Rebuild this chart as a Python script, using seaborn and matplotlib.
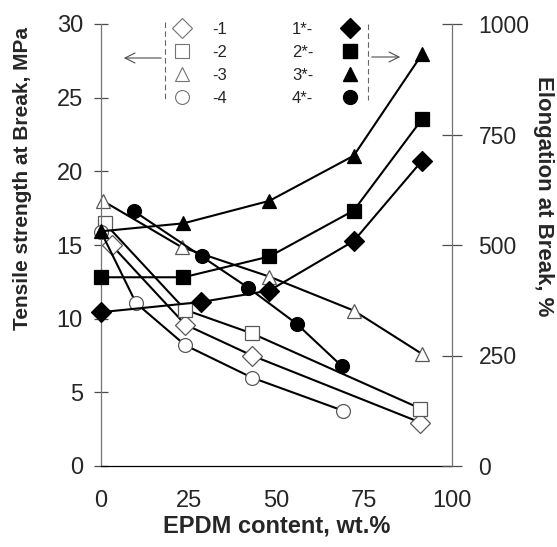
import pandas as pd
import seaborn as sns
import matplotlib
import matplotlib.pyplot as plt
from matplotlib.lines import Line2D
from matplotlib.patches import FancyArrowPatch

matplotlib.use('Agg')

# Tensile strength at break (MPa) - open symbols, left axis
ts_names = ["-1", "-2", "-3", "-4"]
ts_x1 = [3, 24, 43, 91]
ts_y1 = [15.0, 9.6, 7.5, 2.95]
ts_x2 = [1, 24, 43, 91]
ts_y2 = [16.5, 10.6, 9.0, 3.9]
ts_x3 = [0.5, 23, 48, 72, 91.5]
ts_y3 = [18.0, 14.85, 12.85, 10.55, 7.6]
ts_x4 = [0, 10, 24, 43, 69]
ts_y4 = [15.9, 11.05, 8.2, 6.0, 3.75]

# Elongation at break (%) - filled symbols, right axis
el_names = ["1*-", "2*-", "3*-", "4*-"]
el_x1 = [0, 28.5, 48, 72, 91.5]
el_y1 = [348, 371, 397, 509, 691]
el_x2 = [0, 23.5, 48, 72, 91.5]
el_y2 = [427, 427, 474, 578, 785]
el_x3 = [0, 23.5, 48, 72, 91.5]
el_y3 = [531, 549, 600, 702, 932]
el_x4 = [9.5, 28.7, 42, 55.7, 68.6]
el_y4 = [576, 474, 403, 322, 226]

x_ticks = [0, 25, 50, 75, 100]
ts_ticks = [0, 5, 10, 15, 20, 25, 30]
el_ticks = [0, 250, 500, 750, 1000]

marker_shapes = ["D", "s", "^", "o"]


def build_frame(xs, ys, names):
    # long format table for seaborn
    parts = [pd.DataFrame({"content": x, "value": y, "series": n}) for x, y, n in zip(xs, ys, names)]
    return pd.concat(parts, ignore_index=True)


ts_df = build_frame([ts_x1, ts_x2, ts_x3, ts_x4], [ts_y1, ts_y2, ts_y3, ts_y4], ts_names)
el_df = build_frame([el_x1, el_x2, el_x3, el_x4], [el_y1, el_y2, el_y3, el_y4], el_names)

sns.set_style("white")
plt.rcParams['font.family'] = ['Liberation Sans', 'DejaVu Sans']

W, H = 557, 547
fig = plt.figure(figsize=(W / 100, H / 100), dpi=100)
ax = fig.add_axes([101 / W, 1 - 466 / H, 351 / W, 442 / H])
ax2 = ax.twinx()

common = dict(x="content", y="value", hue="series", style="series", dashes=False,
              sort=False, estimator=None, legend=False, markersize=10, lw=1.5, clip_on=False)

sns.lineplot(data=ts_df, ax=ax, palette=["black"] * 4,
             markers=dict(zip(ts_names, marker_shapes)),
             mfc="white", mec="0.35", mew=0.9, **common)
sns.lineplot(data=el_df, ax=ax2, palette=["black"] * 4,
             markers=dict(zip(el_names, marker_shapes)),
             mfc="black", mec="black", mew=0.9, **common)

# axes cosmetics
ax.set_xlim(0, 100)
ax.set_ylim(0, 30)
ax2.set_ylim(0, 1000)
ax.set_xticks(x_ticks)
ax.set_yticks(ts_ticks)
ax2.set_yticks(el_ticks)

for a in (ax, ax2):
    a.spines["top"].set_visible(False)
    a.spines["left"].set_color("0.45")
    a.spines["right"].set_color("0.45")
    a.spines["bottom"].set_color("black")
    for s in a.spines.values():
        s.set_linewidth(0.9)
ax.spines["right"].set_visible(False)
ax2.spines["left"].set_visible(False)
ax2.spines["bottom"].set_visible(False)

ax.tick_params(axis="y", direction="inout", length=10, width=0.9, color="0.3", labelsize=17, pad=8)
ax.tick_params(axis="x", direction="inout", length=14, width=0.9, color="0.3", labelsize=17, pad=10)
ax2.tick_params(axis="y", direction="inout", length=14, width=0.9, color="0.3", labelsize=16.5, pad=12)

ax.set_xlabel("EPDM content, wt.%", fontsize=17, fontweight="bold", labelpad=2)
ax.set_ylabel("Tensile strength at Break, MPa", fontsize=15, fontweight="bold", va="center")
ax.yaxis.set_label_coords(-0.225, 0.65)
ax2.set_ylabel("Elongation at Break, %", fontsize=16, fontweight="bold", rotation=-90, va="center")
ax2.yaxis.set_label_coords(1.262, 0.61)

# legends: open symbols left, filled symbols right
open_handles = [Line2D([], [], ls="none", marker=m, ms=10, mfc="white", mec="0.45", mew=0.8)
                for m in marker_shapes]
fill_handles = [Line2D([], [], ls="none", marker=m, ms=10, mfc="black", mec="black")
                for m in marker_shapes]
leg_kw = dict(frameon=False, fontsize=12, borderpad=0, borderaxespad=0, labelspacing=0.48,
              handlelength=1.2)
fig.legend(open_handles, ts_names, loc="upper left", bbox_to_anchor=(172 / W, 1 - 22 / H),
           handletextpad=1.2, **leg_kw)
fig.legend(fill_handles, el_names, loc="upper right", bbox_to_anchor=(360 / W, 1 - 22 / H),
           markerfirst=False, handletextpad=1.6, **leg_kw)

# dashed brackets with arrows towards each axis
fig.add_artist(Line2D([165 / W, 165 / W], [1 - 22 / H, 1 - 99 / H], color="0.4", lw=0.8, ls=(0, (5, 3))))
fig.add_artist(Line2D([368 / W, 368 / W], [1 - 24 / H, 1 - 100 / H], color="0.4", lw=0.8, ls=(0, (5, 3))))
fig.add_artist(FancyArrowPatch((164 / W, 1 - 58 / H), (121 / W, 1 - 58 / H), transform=fig.transFigure,
                               arrowstyle="->", mutation_scale=18, color="0.3", lw=0.8))
fig.add_artist(FancyArrowPatch((369 / W, 1 - 57 / H), (403 / W, 1 - 57 / H), transform=fig.transFigure,
                               arrowstyle="->", mutation_scale=18, color="0.3", lw=0.8))

fig.savefig("out.png", dpi=100)
